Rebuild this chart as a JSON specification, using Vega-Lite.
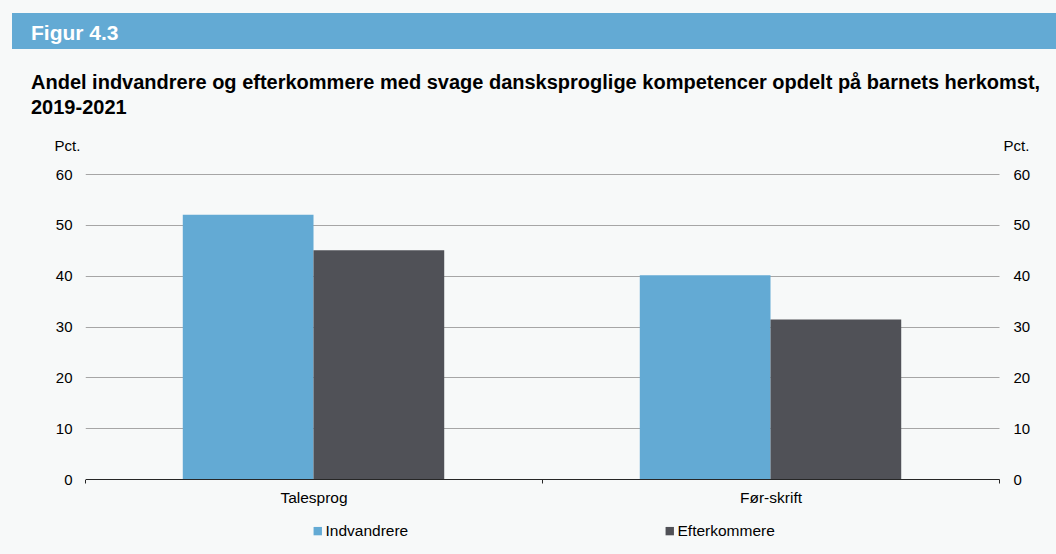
{
  "$schema": "https://vega.github.io/schema/vega-lite/v6.json",
  "background": "#f7f9f9",
  "padding": {"left": 11, "top": 13, "right": 0, "bottom": 16},
  "spacing": 23,
  "vconcat": [
    {
      "width": 972,
      "height": 36,
      "view": {"fill": "#63aad4", "stroke": null},
      "title": {
        "text": "Figur 4.3",
        "color": "#ffffff",
        "fontSize": 21,
        "fontWeight": "bold",
        "anchor": "start",
        "frame": "group",
        "orient": "top",
        "offset": -48,
        "baseline": "alphabetic",
        "dx": -54,
        "zindex": 2
      },
      "data": {"values": [{"figur": "Figur 4.3"}]},
      "mark": {"type": "rect", "color": "#63aad4", "opacity": 0},
      "encoding": {
        "y": {
          "field": "figur",
          "type": "nominal",
          "scale": {"paddingInner": 0, "paddingOuter": 0},
          "axis": {
            "title": null,
            "labels": false,
            "ticks": false,
            "grid": false,
            "domain": true,
            "domainColor": "#63aad4",
            "domainWidth": 146,
            "domainCap": "butt",
            "translate": 0,
            "zindex": 0
          }
        },
        "x": {"value": 0},
        "x2": {"value": "width"}
      }
    },
    {
      "width": 914,
      "height": 305,
      "title": {
        "text": ["Andel indvandrere og efterkommere med svage dansksproglige kompetencer opdelt på barnets herkomst,", "2019-2021"],
        "anchor": "start",
        "frame": "group",
        "dx": -54,
        "fontSize": 20,
        "fontWeight": "bold",
        "lineHeight": 25.5,
        "offset": 20,
        "color": "#000000"
      },
      "data": {
        "values": [
          {"kompetence": "Talesprog", "gruppe": "Indvandrere", "andel": 52.0},
          {"kompetence": "Talesprog", "gruppe": "Efterkommere", "andel": 45.0},
          {"kompetence": "Før-skrift", "gruppe": "Indvandrere", "andel": 40.1},
          {"kompetence": "Før-skrift", "gruppe": "Efterkommere", "andel": 31.4}
        ]
      },
      "layer": [
        {
          "mark": {"type": "bar"},
          "encoding": {
            "x": {
              "field": "kompetence",
              "type": "nominal",
              "sort": ["Talesprog", "Før-skrift"],
              "scale": {"paddingInner": 0, "paddingOuter": 0},
              "axis": {
                "title": null,
                "labelAngle": 0,
                "tickBand": "extent",
                "ticks": true,
                "tickSize": 4,
                "tickColor": "#262626",
                "domainColor": "#262626",
                "labelFontSize": 15.5,
                "labelPadding": 7,
                "labelColor": "#000000",
                "grid": false
              }
            },
            "xOffset": {
              "field": "gruppe",
              "type": "nominal",
              "sort": ["Indvandrere", "Efterkommere"],
              "scale": {"paddingInner": 0, "paddingOuter": 0.748}
            },
            "y": {
              "field": "andel",
              "type": "quantitative",
              "scale": {"domain": [0, 60]},
              "axis": {
                "title": "Pct.",
                "orient": "left",
                "values": [0, 10, 20, 30, 40, 50, 60],
                "grid": true,
                "gridColor": "#a6a6a6",
                "domain": false,
                "ticks": true,
                "tickSize": 73,
                "tickColor": "#f7f9f9",
                "labelPadding": -60,
                "labelFontSize": 15,
                "labelColor": "#000000",
                "titleAngle": 0,
                "titleX": -31,
                "titleY": -29,
                "titleAlign": "left",
                "titleBaseline": "middle",
                "titleFontSize": 15,
                "titleFontWeight": "normal",
                "titleColor": "#000000"
              }
            },
            "color": {
              "field": "gruppe",
              "type": "nominal",
              "scale": {"domain": ["Indvandrere", "Efterkommere"], "range": ["#63aad4", "#505157"]},
              "legend": {
                "orient": "none",
                "legendX": 225,
                "legendY": 510,
                "direction": "horizontal",
                "columns": 2,
                "columnPadding": 253,
                "symbolType": "square",
                "symbolSize": 70,
                "symbolStrokeWidth": 0,
                "labelFontSize": 15.5,
                "labelColor": "#000000",
                "labelOffset": 0,
                "title": null,
                "padding": 0
              }
            }
          }
        },
        {
          "mark": {"type": "bar", "opacity": 0},
          "encoding": {
            "x": {"field": "kompetence", "type": "nominal", "sort": ["Talesprog", "Før-skrift"]},
            "xOffset": {"field": "gruppe", "type": "nominal", "sort": ["Indvandrere", "Efterkommere"]},
            "y": {
              "field": "andel",
              "type": "quantitative",
              "axis": {
                "title": "Pct.",
                "orient": "right",
                "values": [0, 10, 20, 30, 40, 50, 60],
                "grid": false,
                "domain": false,
                "ticks": false,
                "labelPadding": 14,
                "labelFontSize": 15,
                "labelColor": "#000000",
                "titleAngle": 0,
                "titleX": 4,
                "titleY": -29,
                "titleAlign": "left",
                "titleBaseline": "middle",
                "titleFontSize": 15,
                "titleFontWeight": "normal",
                "titleColor": "#000000"
              }
            }
          }
        }
      ],
      "resolve": {"axis": {"y": "independent"}}
    }
  ],
  "config": {
    "font": "Liberation Sans",
    "view": {"stroke": null}
  }
}
